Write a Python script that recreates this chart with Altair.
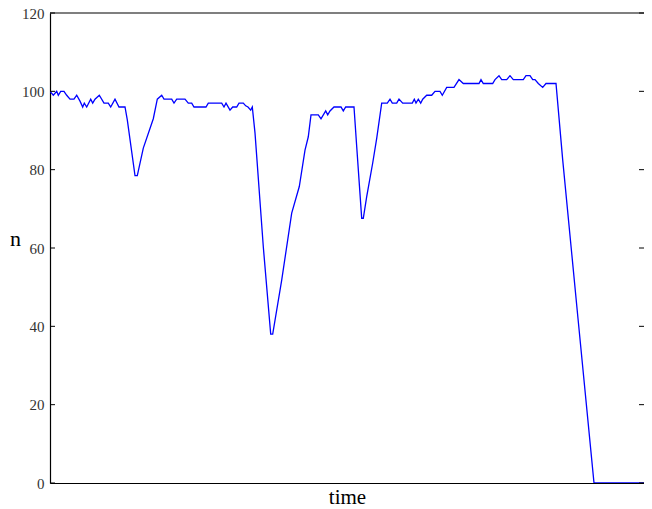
import altair as alt
import pandas as pd

# ---- data ----
TIME = [0, 3.3, 6.7, 8.3, 10.7, 14, 16.7, 20, 24, 26.7, 30, 32.7, 34.3, 36.7, 40.7,
        42.7, 45, 49.3, 54, 58.3, 60.7, 65, 69, 75, 77.3, 85, 87.3, 93.3, 103.3,
        107.3, 111.7, 114, 121.7, 124, 126.7, 135, 138.3, 141.7, 144, 156, 158.3,
        171.7, 174, 176, 180, 182.7, 186.7, 189, 193.3, 195.7, 198, 200.7, 202.3,
        205, 213.3, 220.7, 222.7, 231.7, 241.7, 249.3, 255, 258.3, 261, 268.3, 271,
        275.7, 277.7, 280, 284, 291, 293.3, 295.7, 304, 306.7, 311.7, 313.3, 316.7,
        322.7, 326.7, 331.7, 337.3, 340, 342.3, 346.7, 349, 352.7, 362.3, 364.3,
        366, 368.3, 370.7, 372.7, 376.7, 381.7, 385, 390, 392.3, 396.7, 404, 409,
        413.3, 429, 431, 433.3, 442.7, 445, 449, 451.7, 456.7, 460, 463.3, 473.3,
        476, 480, 482.7, 485, 488.3, 492.7, 496, 506, 512.7, 528, 544, 594]
N = [100, 99, 100, 99, 100, 100, 99, 98, 98, 99, 97.5, 96, 97, 96, 98,
     97, 98, 99, 97, 97, 96, 98, 96, 96, 92.7, 78.5, 78.5, 85.5, 93,
     98, 99, 98, 98, 97, 98, 98, 97, 97, 96, 96, 97,
     97, 96, 97, 95.2, 96, 96, 97, 97, 96.3, 96, 95.2, 96,
     89.4, 60.3, 38, 38, 51.8, 68.9, 75.7, 85, 88.4, 94, 94, 93,
     95, 94, 95, 96, 96, 95, 96, 96, 85.9, 67.6, 67.6, 73.1,
     81.7, 88, 97, 97, 98, 97, 97, 98, 97, 97, 98,
     97, 98, 97, 98, 99, 99, 100, 100, 99, 101, 101, 103,
     102, 102, 103, 102, 102, 103, 104, 103, 103, 104, 103, 103,
     104, 104, 103, 103, 102, 101, 102, 102, 82.5, 42, 0, 0]
Y_TICKS = [0, 20, 40, 60, 80, 100, 120]
X_DOMAIN = [0, 594]
Y_DOMAIN = [0, 120]
TITLE = "Sketch of a long trajectory"
X_LABEL = "time"
Y_LABEL = "n"

FONT = "Liberation Serif"
W, H = 594, 470

df = pd.DataFrame({"time": TIME, "n": N})
ticks = pd.DataFrame({"n": Y_TICKS})
top = pd.DataFrame({"n": [Y_DOMAIN[1]]})

xs = alt.Scale(domain=X_DOMAIN, nice=False, zero=False)
ys = alt.Scale(domain=Y_DOMAIN, nice=False)

line = alt.Chart(df).mark_line(color="#0000ff", strokeWidth=1.3, clip=True).encode(
    x=alt.X("time:Q", scale=xs,
            axis=alt.Axis(title=X_LABEL, labels=False, ticks=False, grid=False,
                          domainColor="black", domainWidth=1.2,
                          titleFont=FONT, titleFontSize=21, titleFontWeight="normal",
                          titleColor="black", titleY=20, titleBaseline="alphabetic")),
    y=alt.Y("n:Q", scale=ys,
            axis=alt.Axis(title=Y_LABEL, values=Y_TICKS, ticks=False, grid=False,
                          domainColor="black", domainWidth=1.2,
                          labelFont=FONT, labelFontSize=15, labelColor="#333333",
                          labelPadding=6,
                          titleFont=FONT, titleFontSize=22, titleFontWeight="normal",
                          titleColor="black", titleAngle=0, titleAlign="center",
                          titleBaseline="alphabetic", titleX=-35, titleY=232)),
)

left_ticks = alt.Chart(ticks).mark_rule(color="black", strokeWidth=1).encode(
    y=alt.Y("n:Q", scale=ys), x=alt.value(0), x2=alt.value(5))
right_ticks = alt.Chart(ticks).mark_rule(color="black", strokeWidth=1).encode(
    y=alt.Y("n:Q", scale=ys), x=alt.value(W - 5), x2=alt.value(W))
top_border = alt.Chart(top).mark_rule(color="black", strokeWidth=1.2).encode(
    y=alt.Y("n:Q", scale=ys), x=alt.value(0), x2=alt.value(W))

chart = alt.layer(line, left_ticks, right_ticks, top_border).properties(
    width=W, height=H,
    autosize="none",
    padding={"left": 42, "top": 5, "right": 0, "bottom": 26},
    title=alt.TitleParams(text=TITLE, font=FONT, fontSize=21, fontWeight="normal",
                          color="black", anchor="middle", baseline="alphabetic",
                          offset=3, dx=5),
).configure_view(stroke=None)

chart.save("out.html", embed_options={"renderer": "svg", "actions": False})
